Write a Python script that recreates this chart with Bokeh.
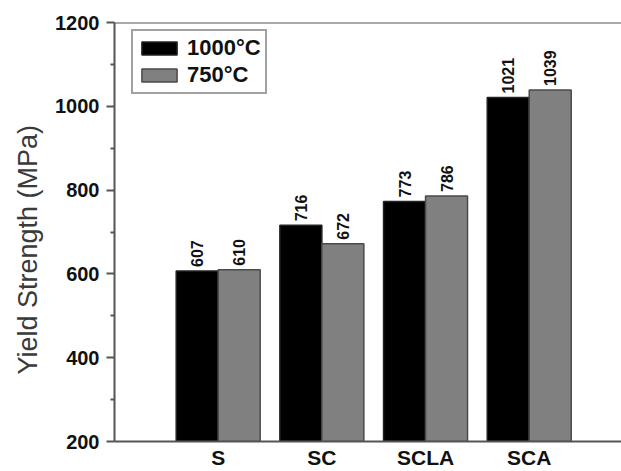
import math
from bokeh.plotting import figure
from bokeh.models import (ColumnDataSource, Range1d, FixedTicker, Span, Legend,
                          Title)
from bokeh.core.properties import value
from bokeh.embed import file_html
from bokeh.resources import INLINE

categories = ["S", "SC", "SCLA", "SCA"]
series_names = ["1000°C", "750°C"]
values_1000 = [607, 716, 773, 1021]
values_750 = [610, 672, 786, 1039]
y_ticks = [200, 400, 600, 800, 1000, 1200]
y_minor = [300, 500, 700, 900, 1100]
y_title = "Yield Strength (MPa)"

FONT = "Liberation Sans"
pos = [i + 1 for i in range(len(categories))]
bw = 0.405
off = 0.2025

src1 = ColumnDataSource(dict(x=[p_ - off for p_ in pos], top=values_1000,
                             lab=[str(v) for v in values_1000]))
src2 = ColumnDataSource(dict(x=[p_ + off for p_ in pos], top=values_750,
                             lab=[str(v) for v in values_750]))

p = figure(width=621, height=471, output_backend="svg", toolbar_location=None,
           x_range=Range1d(0, 4.89), y_range=Range1d(200, 1200),
           min_border_left=114, min_border_top=22, min_border_right=0,
           min_border_bottom=29)
p.outline_line_color = None
p.xgrid.visible = False
p.ygrid.visible = False
p.background_fill_color = "white"
p.border_fill_color = "white"

r1 = p.vbar(x="x", top="top", bottom=200, width=bw, source=src1,
            fill_color="#000000", line_color="#222222", line_width=1.5)
r2 = p.vbar(x="x", top="top", bottom=200, width=bw, source=src2,
            fill_color="#808080", line_color="#4a4a4a", line_width=1.5)

for s in (src1, src2):
    p.text(x="x", y="top", text="lab", source=s, angle=90, angle_units="deg",
           y_offset=-4, text_align="left", text_baseline="middle",
           text_font=value(FONT), text_font_style="bold",
           text_font_size="16px", text_color="#111111")

# top frame line
p.add_layout(Span(location=1200, dimension="width", line_color="#555555",
                  line_width=2))

xa = p.xaxis[0]
xa.ticker = FixedTicker(ticks=pos)
xa.major_label_overrides = {pos[i]: categories[i] for i in range(len(categories))}
xa.major_tick_line_color = None
xa.major_tick_out = 0
xa.major_tick_in = 0
xa.minor_tick_line_color = None
xa.axis_line_color = "#555555"
xa.axis_line_width = 2
xa.major_label_text_font = FONT
xa.major_label_text_font_style = "bold"
xa.major_label_text_font_size = "21px"
xa.major_label_text_color = "#111111"
xa.major_label_standoff = 4

ya = p.yaxis[0]
ya.ticker = FixedTicker(ticks=y_ticks, minor_ticks=y_minor)
ya.axis_line_color = "#555555"
ya.axis_line_width = 2
ya.major_tick_line_color = "#555555"
ya.major_tick_line_width = 2
ya.major_tick_out = 8
ya.major_tick_in = 0
ya.minor_tick_line_color = "#555555"
ya.minor_tick_line_width = 2
ya.minor_tick_out = 4
ya.minor_tick_in = 0
ya.major_label_text_font = FONT
ya.major_label_text_font_style = "bold"
ya.major_label_text_font_size = "20px"
ya.major_label_text_color = "#111111"
ya.major_label_standoff = 7

yt = Title(text=y_title, align="left", offset=67, standoff=20,
           text_font=FONT, text_font_style="normal", text_font_size="27px",
           text_color="#3a3a3a")
p.add_layout(yt, "left")

legend = Legend(items=[(series_names[0], [r1]), (series_names[1], [r2])],
                location=(17, 347))
legend.label_text_font = FONT
legend.label_text_font_style = "bold"
legend.label_text_font_size = "22px"
legend.label_text_color = "#111111"
legend.glyph_width = 44
legend.glyph_height = 16
legend.label_height = 16
legend.spacing = 1
legend.padding = 4
legend.margin = 0
legend.label_standoff = 6
legend.border_line_color = "#444444"
legend.border_line_width = 2
legend.background_fill_alpha = 1
p.add_layout(legend, "center")

open("out.html", "w").write(file_html(p, INLINE))
